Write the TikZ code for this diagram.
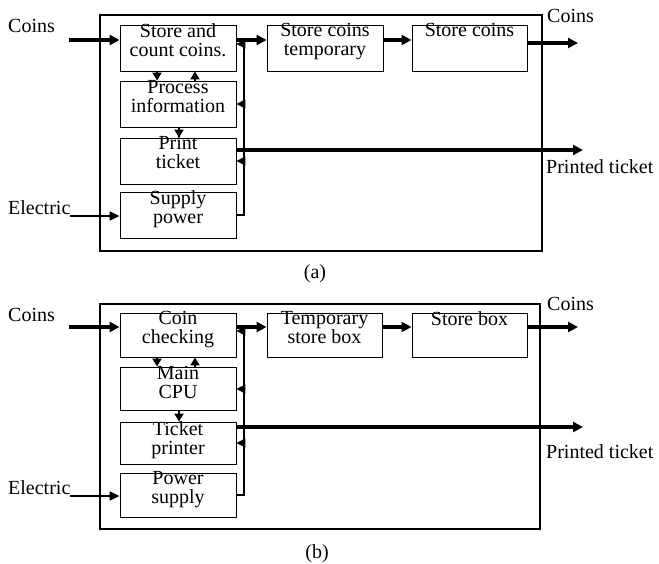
\documentclass[tikz,border=0pt]{standalone}
\usepackage{fontspec}
\setmainfont{Liberation Serif}
\usetikzlibrary{arrows.meta}
\begin{document}
\begin{tikzpicture}[x=1pt,y=-1pt,
  box/.style={draw, line width=0.9pt, minimum width=116pt, minimum height=46pt, inner sep=0pt},
  boxb/.style={box, minimum height=44pt},
  frame/.style={draw, line width=2.5pt},
  txt/.style={anchor=north, align=center, inner sep=0pt, font=\fontsize{20}{19}\selectfont},
  lbl/.style={anchor=base west, inner sep=0pt, font=\fontsize{20}{20}\selectfont},
  thk/.style={line width=3.5pt, -{Triangle[length=10pt,width=10pt]}},
  thin/.style={line width=2pt, -{Triangle[length=10pt,width=9pt]}},
  pw/.style={line width=2pt},
  pwa/.style={line width=1.5pt, -{Triangle[length=9pt,width=9pt]}},
  sm/.style={line width=2pt, -{Triangle[length=8pt,width=9pt]}}]
\useasboundingbox (0,0) rectangle (659,563);

% ---------------- panel (a) ----------------
\node[frame, minimum width=442pt, minimum height=236pt, inner sep=0pt] (fa) at (321,133) {};
\node[box] (s1) at (178,48) {};
\node[box] (s2) at (178,104) {};
\node[box] (s3) at (178,161) {};
\node[box] (s4) at (178,215) {};
\node[box] (t1) at (325,48) {};
\node[box, minimum width=115pt] (t2) at (469.5,48) {};
\node[txt] (s1t) at ([yshift=1.5pt]s1.north) {\fontsize{20}{20}\selectfont Store and\\count coins.};
\node[txt] (s2t) at ([yshift=0.5pt]s2.north) {Process\\information};
\node[txt] (s3t) at ([yshift=1.5pt]s3.north) {Print\\ticket};
\node[txt] (s4t) at ([yshift=1.5pt]s4.north) {Supply\\power};
\node[txt] (t1t) at ([yshift=1.5pt]t1.north) {Store coins\\temporary};
\node[txt] (t2t) at ([yshift=1.5pt]t2.north) {Store coins};

\node[lbl] (cinA) at (8,32) {Coins};
\node[lbl] (elA) at (8,214) {Electric};
\node[lbl] (coutA) at (547,22) {Coins};
\node[lbl] (ptA) at (546,173) {Printed ticket};
\node[lbl, anchor=base] (capA) at (315,278) {(a)};

\coordinate (ciA) at (69,40);
\coordinate (eiA) at (70,216);
\coordinate (coA) at (578,43);
\coordinate (poA) at (583,150);
\coordinate (pvA) at (244,39);
\coordinate (p1A) at (244,44);
\coordinate (p2A) at (244,104);
\coordinate (p3A) at (244,161);

\draw[thk] (ciA) -- (ciA -| s1.west);
\draw[thk] (s1.east |- ciA) -- (t1.west |- ciA);
\draw[thk] (t1.east |- ciA) -- (t2.west |- ciA);
\draw[thk] (t2.east |- coA) -- (coA);
\draw[thin] (eiA) -- (eiA -| s4.west);
\draw[pw] (s4.east) -| (pvA);
\draw[pwa] (p1A) -- (p1A -| s1.east);
\draw[pwa] (p2A) -- (p2A -| s2.east);
\draw[pwa] (p3A) -- (p3A -| s3.east);
\draw[thk] (s3.east |- poA) -- (poA);
\draw[sm] ([xshift=-21pt]s1.south) -- ([xshift=-21pt]s2.north);
\draw[sm] ([xshift=17pt]s2.north) -- ([xshift=17pt]s1.south);
\draw[sm] ([xshift=1pt]s2.south) -- ([xshift=1pt]s3.north);

% ---------------- panel (b) ----------------
\node[frame, minimum width=440pt, minimum height=225pt, inner sep=0pt] (fb) at (320,416.5) {};
\node[boxb] (c1) at (178,335) {};
\node[boxb, minimum height=43pt] (c2) at (178,388.5) {};
\node[boxb, minimum height=42pt] (c3) at (178,443) {};
\node[boxb] (c4) at (178,495) {};
\node[boxb, minimum width=115pt] (d1) at (324.5,335) {};
\node[boxb, minimum width=115pt] (d2) at (469.5,335) {};
\node[txt] (c1t) at ([yshift=1.5pt]c1.north) {Coin\\checking};
\node[txt] (c2t) at ([yshift=0.5pt]c2.north) {Main\\CPU};
\node[txt] (c3t) at ([yshift=0.5pt]c3.north) {Ticket\\printer};
\node[txt] (c4t) at ([yshift=1.5pt]c4.north) {Power\\supply};
\node[txt] (d1t) at ([yshift=1.5pt]d1.north) {Temporary\\store box};
\node[txt] (d2t) at ([yshift=1.5pt]d2.north) {Store box};

\node[lbl] (cinB) at (8,321) {Coins};
\node[lbl] (elB) at (8,494) {Electric};
\node[lbl] (coutB) at (547,310) {Coins};
\node[lbl] (ptB) at (546,458) {Printed ticket};
\node[lbl, anchor=base] (capB) at (317,558) {(b)};

\coordinate (ciB) at (69,327);
\coordinate (coB) at (578,327);
\coordinate (eiB) at (70,496);
\coordinate (poB) at (583,427);
\coordinate (pvB) at (244,326);
\coordinate (p1B) at (244,331);
\coordinate (p2B) at (244,389);
\coordinate (p3B) at (244,443);

\draw[thk] (ciB) -- (ciB -| c1.west);
\draw[thk] (c1.east |- ciB) -- (d1.west |- ciB);
\draw[thk] (d1.east |- ciB) -- (d2.west |- ciB);
\draw[thk] (d2.east |- coB) -- (coB);
\draw[thin] (eiB) -- (eiB -| c4.west);
\draw[pw] (c4.east) -| (pvB);
\draw[pwa] (p1B) -- (p1B -| c1.east);
\draw[pwa] (p2B) -- (p2B -| c2.east);
\draw[pwa] (p3B) -- (p3B -| c3.east);
\draw[thk] (c3.east |- poB) -- (poB);
\draw[sm] ([xshift=-21pt]c1.south) -- ([xshift=-21pt]c2.north);
\draw[sm] ([xshift=17pt]c2.north) -- ([xshift=17pt]c1.south);
\draw[sm] ([xshift=1pt]c2.south) -- ([xshift=1pt]c3.north);
\end{tikzpicture}
\end{document}
